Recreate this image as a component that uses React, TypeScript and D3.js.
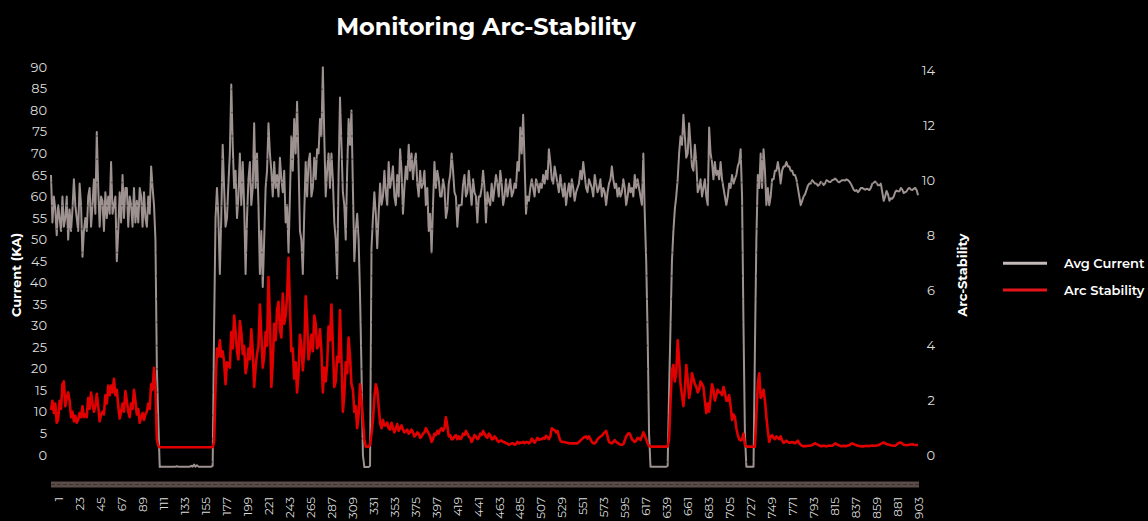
import React, { useEffect, useRef } from 'react';
import * as d3 from 'd3';

// readings are taken every 3rd position (starting a few positions before label "1"),
// plus a second reading half-way between each pair of them
const firstSample = -7;
const sampleStep = 3;

const avgCurrent = [
  65, 60, 51, 55, 60, 55, 50, 52, 64, 55,
  63, 46, 55, 60, 53, 64, 75, 53, 59, 61,
  60, 68, 58, 45, 61, 65, 62, 53, 58, 62,
  59, 62, 53, 55, 60, 67, 58,
  20,
  -2.8, -2.7, -2.7, -2.7, -2.7, -2.7, -2.6, -2.7, -2.7, -2.7, -2.7, -2.5, -2.2, -2.4, -2.7, -2.7, -2.7, -2.7, -2.7,
  30,
  62, 42, 72,
  53, 63, 86, 62, 55, 70, 68, 42, 64, 58,
  77, 70, 42, 39, 62, 77, 66, 68, 65, 69,
  61, 54, 47, 74, 78, 82, 52, 42, 68, 68,
  60, 69, 71, 78, 90, 60, 70, 70, 54, 41,
  83, 61, 50, 78, 80, 45, 56, 37, 0, -2.8, -2.8,
  48, 61, 48, 63, 60, 61, 68, 64, 60,
  65, 71, 56, 67, 72, 70, 68, 63, 66, 63,
  58, 52, 47, 68, 66, 60, 64, 55, 63, 70,
  61, 53, 58, 63, 60, 66, 58, 61, 54, 60,
  66, 54, 59, 63, 62, 63, 66, 58, 64, 62,
  60, 63, 68, 76, 79, 56, 59, 64, 60, 63,
  63, 65, 66, 71, 64, 67, 63, 65, 60, 58,
  63, 64, 59, 62, 66, 68, 62, 64, 62, 65,
  61, 64, 62, 58, 63, 67, 62, 60, 60, 64,
  58, 63, 62, 65, 64, 60, 70, 45, 5,
  -2.7, -2.7, -2.7, -2.7, -2.7, -2.7,
  15,
  45, 57, 64, 74, 79,
  69, 77, 67, 72, 61, 64, 62, 60, 76, 68,
  68, 66, 68, 62, 58, 63, 65, 64, 67, 71,
  30, -2.7, -2.7, -2.7, 25, 65, 70, 71, 58, 58,
  64, 66, 68, 63, 67, 68, 67, 66, 65, 62,
  58, 60, 61.5, 63, 63.8, 63, 62.5, 63.4, 62.7, 63.8,
  63.4, 63.8, 64.2, 63.4, 63.6, 63.8, 64, 63.5, 62.3, 61.3,
  61, 62, 61.8, 61.8, 61.5, 63, 63.5, 62.6, 63, 59,
  61.3, 59, 59.5, 61, 61.2, 62, 60.8, 61.2, 62, 61.5, 62,
  60.3,
];

const avgCurrentBetween = [
  54, 57, 58, 52, 53, 60, 57, 57, 58, 52,
  58, 52, 52, 62, 58, 56, 62, 60, 52, 55,
  56, 56, 60, 52, 54, 55, 62, 60, 53, 54,
  54, 60, 61, 53, 56, 62, 50, 8, -2.7, -2.7,
  -2.7, -2.7, -2.7, -2.7, -2.7, -2.7, -2.7, -2.7, -2.7, -2.7,
  -2.7, -2.7, -2.7, -2.7, -2.7, -2.7, -2.5, 55, 55, 55,
  62, 55, 70, 72, 66, 60, 58, 58, 55, 68,
  62, 62, 58, 52, 50, 66, 70, 60, 62, 60,
  64, 66, 58, 60, 66, 70, 68, 50, 56, 60,
  70, 62, 64, 70, 74, 74, 66, 62, 64, 50,
  65, 72, 58, 66, 72, 62, 52, 50, 20, -2.8,
  -2.8, -2.5, 55, 56, 56, 58, 66, 58, 62, 67,
  58, 60, 66, 62, 64, 66, 64, 70, 60, 62,
  66, 62, 56, 58, 62, 64, 60, 62, 57, 65,
  66, 60, 58, 58, 65, 61, 62, 64, 60, 60,
  62, 62, 61, 58, 59, 65, 60, 63, 60, 60,
  64, 61, 62, 66, 70, 68, 60, 62, 62, 64,
  61, 62, 63, 64, 68, 63, 65, 61, 62, 63,
  61, 60, 62, 61, 63, 64, 65, 61, 63, 60,
  63, 62, 60, 61, 61, 64, 64, 63, 62, 61,
  62, 60, 61, 60, 62, 62, 58, 56, 28, -2.7,
  -2.7, -2.7, -2.7, -2.7, -2.7, -2.5, 30, 52, 60, 70,
  72, 74, 70, 72, 66, 68, 62, 60, 64, 58,
  70, 64, 65, 64, 64, 60, 60, 62, 63, 65,
  68, 60, 5, -2.7, -2.7, -2.7, 50, 62, 62, 66,
  62, 60, 64, 66, 66, 66, 67, 67, 66, 65,
  64, 60, 59, 60.5, 62.5, 63, 63.4, 63, 62.8, 63.2,
  63, 63.6, 63.4, 63.9, 63.9, 63.3, 63.8, 63.7, 63.8, 63,
  61.6, 61.5, 61.4, 62, 61.6, 61.7, 62, 63.2, 63.2, 62.6,
  61, 60, 60.5, 59.6, 60, 61.4, 61.2, 61.6, 61, 61.8,
  61.6, 61.8, 61.5,
];

const arcStability = [
  1.66, 1.55, 1.2, 2.0, 2.6, 1.8, 2.3, 1.4, 1.25, 1.2,
  1.55, 1.8, 1.5, 2.1, 2.3, 1.6, 2.25, 1.25, 1.6, 2.2,
  2.55, 2.55, 2.8, 2.4, 1.35, 1.9, 2.35, 1.6, 1.9, 2.4,
  1.5, 1.2, 1.55, 1.5, 1.9, 2.6, 3.2,
  0.6,
  0.31, 0.31, 0.31, 0.31, 0.31, 0.31, 0.31, 0.31, 0.31, 0.31, 0.31, 0.31, 0.31, 0.31, 0.31, 0.31, 0.31, 0.31, 0.31,
  0.5,
  3.9, 4.2, 3.8,
  2.6, 3.3, 4.5, 5.1, 3.8, 4.9, 3.7, 3.0, 3.9, 4.6,
  2.5, 3.7, 5.5, 3.2, 4.5, 6.5, 2.5, 4.8, 5.3, 4.6,
  5.9, 5.1, 7.2, 3.8, 2.8, 2.3, 4.4, 3.1, 5.8, 3.5,
  4.4, 5.1, 3.9, 4.6, 2.3, 2.7, 4.7, 5.5, 2.5, 3.6,
  5.3, 1.6, 3.4, 4.3, 2.6, 1.6, 1.0, 2.6, 1.3, 0.33, 0.33,
  0.8, 2.1, 2.4, 1.2, 1.3, 1.1, 1.0, 1.2, 0.85,
  1.15, 1.0, 0.95, 0.9, 0.8, 0.95, 0.7, 0.85, 0.65, 0.8,
  1.0, 0.8, 0.5, 0.8, 0.9, 0.95, 0.9, 1.4, 0.7, 0.6,
  0.7, 0.6, 0.6, 0.8, 0.9, 0.7, 0.5, 0.75, 0.6, 0.8,
  0.9, 0.7, 0.8, 0.6, 0.7, 0.55, 0.55, 0.5, 0.45, 0.4,
  0.45, 0.4, 0.5, 0.48, 0.5, 0.5, 0.45, 0.62, 0.47, 0.65,
  0.6, 0.65, 0.72, 0.6, 1.0, 0.93, 0.9, 0.55, 0.5, 0.48,
  0.45, 0.45, 0.45, 0.45, 0.55, 0.65, 0.7, 0.7, 0.5, 0.45,
  0.6, 0.7, 0.8, 0.9, 0.5, 0.45, 0.57, 0.47, 0.4, 0.42,
  0.7, 0.82, 0.6, 0.5, 0.65, 0.57, 0.85, 0.6, 0.35,
  0.33, 0.33, 0.33, 0.33, 0.33, 0.33,
  0.6,
  3.1, 2.7, 4.2, 2.6, 1.8,
  3.3, 2.1, 3.0, 2.6, 2.3, 2.7, 2.5, 1.55, 1.6, 2.6,
  2.0, 2.4, 2.3, 2.5, 2.0, 2.2, 1.3, 1.4, 0.75, 0.55,
  0.8, 0.33, 0.33, 0.33, 0.33, 2.6, 2.1, 2.4, 1.4, 0.5,
  0.75, 0.6, 0.65, 0.7, 0.47, 0.55, 0.47, 0.5, 0.45, 0.55, 0.39, 0.34,
  0.35, 0.36, 0.38, 0.45, 0.4, 0.35, 0.36, 0.34, 0.37, 0.36,
  0.45, 0.4, 0.35, 0.36, 0.35, 0.38, 0.45, 0.4, 0.36, 0.35,
  0.34, 0.36, 0.35, 0.37, 0.36, 0.38, 0.43, 0.48, 0.42, 0.4,
  0.37, 0.36, 0.45, 0.48, 0.4, 0.38, 0.4, 0.42, 0.39,
  0.39,
];

const arcStabilityBetween = [
  2.0, 1.9, 1.3, 1.7, 2.7, 2.1, 2.0, 1.6, 1.45, 1.3,
  1.4, 1.4, 1.4, 1.7, 1.9, 1.8, 1.8, 1.5, 1.5, 1.9,
  2.2, 2.3, 2.2, 1.8, 1.6, 1.6, 2.0, 1.4, 1.7, 2.0,
  1.7, 1.4, 1.3, 1.6, 1.7, 2.4, 2.4, 0.35, 0.31, 0.31,
  0.31, 0.31, 0.31, 0.31, 0.31, 0.31, 0.31, 0.31, 0.31, 0.31,
  0.31, 0.31, 0.31, 0.31, 0.31, 0.31, 0.31, 2.5, 3.6, 3.6,
  3.4, 3.4, 3.2, 3.9, 4.5, 3.5, 4.5, 4.0, 3.3, 3.5,
  3.8, 3.2, 4.0, 4.4, 3.6, 4.0, 5.0, 3.4, 4.2, 5.6,
  4.3, 4.8, 5.8, 5.4, 3.9, 3.4, 3.0, 4.0, 3.8, 4.9,
  3.9, 3.8, 4.8, 4.0, 3.8, 3.2, 3.3, 4.2, 4.0, 2.7,
  3.4, 3.5, 2.2, 3.0, 3.6, 2.4, 1.8, 1.5, 2.0, 0.6,
  0.33, 0.4, 1.3, 2.6, 1.8, 1.0, 1.1, 1.2, 0.95, 1.0,
  1.0, 0.9, 1.1, 0.85, 0.95, 0.85, 0.85, 0.75, 0.8, 0.7,
  0.85, 0.9, 0.7, 0.6, 0.75, 0.8, 1.0, 1.0, 1.1, 0.75,
  0.6, 0.75, 0.7, 0.65, 0.75, 0.8, 0.65, 0.6, 0.7, 0.65,
  0.75, 0.8, 0.65, 0.75, 0.6, 0.65, 0.5, 0.55, 0.5, 0.45,
  0.42, 0.45, 0.42, 0.45, 0.47, 0.45, 0.5, 0.5, 0.55, 0.55,
  0.58, 0.6, 0.62, 0.68, 0.7, 0.95, 0.85, 0.7, 0.5, 0.5,
  0.47, 0.45, 0.45, 0.45, 0.5, 0.6, 0.68, 0.62, 0.6, 0.45,
  0.5, 0.65, 0.72, 0.85, 0.7, 0.47, 0.5, 0.5, 0.43, 0.4,
  0.55, 0.78, 0.75, 0.55, 0.55, 0.62, 0.7, 0.75, 0.45, 0.33,
  0.33, 0.33, 0.33, 0.33, 0.33, 0.33, 2.0, 3.3, 3.0, 3.5,
  2.2, 2.4, 2.8, 2.4, 2.8, 2.5, 2.4, 2.6, 2.0, 1.9,
  2.1, 2.4, 2.2, 2.3, 2.2, 2.3, 2.0, 1.8, 1.5, 1.0,
  0.6, 0.6, 0.4, 0.33, 0.33, 0.33, 1.5, 3.0, 2.2, 2.0,
  0.9, 0.7, 0.65, 0.7, 0.6, 0.55, 0.5, 0.5, 0.48, 0.48,
  0.5, 0.45, 0.36, 0.35,
  0.36, 0.37, 0.42, 0.42, 0.37, 0.35, 0.35, 0.36, 0.36, 0.4,
  0.42, 0.37, 0.35, 0.35, 0.37, 0.42, 0.42, 0.38, 0.35, 0.34,
  0.35, 0.35, 0.36, 0.36, 0.37, 0.4, 0.46, 0.45, 0.41, 0.38,
  0.36, 0.4, 0.47, 0.44, 0.39, 0.39, 0.41, 0.4, 0.39,
];

const xTickLabels = [
  1, 23, 45, 67, 89, 111, 133, 155, 177, 199, 221, 243, 265, 287, 309, 331, 353, 375, 397, 419, 441,
  463, 485, 507, 529, 551, 573, 595, 617, 639, 661, 683, 705, 727, 749, 771, 793, 815, 837, 859, 881, 903,
];
const leftTicks = [0, 5, 10, 15, 20, 25, 30, 35, 40, 45, 50, 55, 60, 65, 70, 75, 80, 85, 90];
const rightTicks = [0, 2, 4, 6, 8, 10, 12, 14];

const legendItems = [
  { name: 'Avg Current', color: '#c4bcb8' },
  { name: 'Arc Stability', color: '#e3141a' },
];

const W = 1148;
const H = 521;
const FONT = "'Montserrat', 'Open Sans', sans-serif";

// merge the on-grid readings with the half-step readings
const toPoints = (main: number[], between: number[]) => {
  const pts: [number, number][] = [];
  main.forEach((v, j) => {
    pts.push([firstSample + j * sampleStep, v]);
    if (j < between.length) pts.push([firstSample + j * sampleStep + sampleStep / 2, between[j]]);
  });
  return pts;
};

const App = () => {
  const svgRef = useRef<SVGSVGElement>(null);

  useEffect(() => {
    document.body.style.margin = '0';
    document.body.style.background = '#000';

    const svg = d3.select(svgRef.current);
    svg.selectAll('*').remove();

    const x = d3.scaleLinear().domain([firstSample, 903]).range([51, 919]);
    const yLeft = d3.scaleLinear().domain([0, 90]).range([455, 67.3]);
    const yRight = d3.scaleLinear().domain([0, 14]).range([455.7, 70.7]);

    // title
    svg.append('text')
      .attr('x', 486).attr('y', 35)
      .attr('text-anchor', 'middle')
      .style('font-family', FONT).style('font-weight', 700).style('font-size', '24px')
      .style('fill', '#fff')
      .text('Monitoring Arc-Stability');

    // axis labels
    svg.append('g').selectAll('text').data(leftTicks).enter().append('text')
      .attr('x', 47).attr('y', d => yLeft(d))
      .attr('dy', '0.35em')
      .attr('text-anchor', 'end')
      .style('font-family', FONT).style('font-size', '13px').style('fill', '#dcdcdc')
      .text(d => d);

    svg.append('g').selectAll('text').data(rightTicks).enter().append('text')
      .attr('x', 935).attr('y', d => yRight(d))
      .attr('dy', '0.35em')
      .attr('text-anchor', 'end')
      .style('font-family', FONT).style('font-size', '13px').style('fill', '#dcdcdc')
      .text(d => d);

    svg.append('text')
      .attr('transform', 'translate(16,275) rotate(-90)')
      .attr('text-anchor', 'middle').attr('dy', '0.35em')
      .style('font-family', FONT).style('font-weight', 700).style('font-size', '13px')
      .style('fill', '#fff')
      .text('Current (KA)');

    svg.append('text')
      .attr('transform', 'translate(962,275) rotate(-90)')
      .attr('text-anchor', 'middle').attr('dy', '0.35em')
      .style('font-family', FONT).style('font-weight', 700).style('font-size', '13px')
      .style('fill', '#fff')
      .text('Arc-Stability');

    // series
    const grayLine = d3.line<[number, number]>()
      .x(d => x(d[0]))
      .y(d => yLeft(d[1]));

    svg.append('path')
      .datum(toPoints(avgCurrent, avgCurrentBetween))
      .attr('d', grayLine)
      .style('fill', 'none')
      .style('stroke', '#b8aca8')
      .style('stroke-opacity', 0.85)
      .style('stroke-width', 2)
      .style('stroke-linejoin', 'round');

    // faint dotted grid rows, only noticeable where they cross the gray line
    const gridRow = d3.scaleLinear().domain([0, 18]).range([66, 485.4]);
    svg.append('g').selectAll('line').data(d3.range(18)).enter().append('line')
      .attr('x1', 51).attr('x2', 919)
      .attr('y1', d => gridRow(d)).attr('y2', d => gridRow(d))
      .style('stroke', '#000').style('stroke-opacity', 0.35)
      .style('stroke-width', 1.5).style('stroke-dasharray', '2,3');

    const redLine = d3.line<[number, number]>()
      .x(d => x(d[0]))
      .y(d => yRight(d[1]));

    svg.append('path')
      .datum(toPoints(arcStability, arcStabilityBetween))
      .attr('d', redLine)
      .style('fill', 'none')
      .style('stroke', '#e00000')
      .style('stroke-width', 2.6)
      .style('stroke-linejoin', 'round');

    // slider bar under the plot
    svg.append('rect')
      .attr('x', 51).attr('y', 481.5).attr('width', 868).attr('height', 6)
      .style('fill', '#5a4c48');
    svg.append('line')
      .attr('x1', 51).attr('x2', 919).attr('y1', 484.5).attr('y2', 484.5)
      .style('stroke', '#3a302d').style('stroke-width', 1).style('stroke-dasharray', '4,2');

    // x labels
    svg.append('g').selectAll('text').data(xTickLabels).enter().append('text')
      .attr('transform', d => `translate(${x(d)},497) rotate(-90)`)
      .attr('text-anchor', 'end').attr('dy', '0.35em')
      .style('font-family', FONT).style('font-size', '12px').style('fill', '#dcdcdc')
      .text(d => d);

    // legend
    const legend = svg.append('g').selectAll('g').data(legendItems).enter().append('g')
      .attr('transform', (d, i) => `translate(1003,${263.3 + i * 26.7})`);
    legend.append('line')
      .attr('x1', 0).attr('x2', 44).attr('y1', 0).attr('y2', 0)
      .style('stroke', d => d.color).style('stroke-width', 3);
    legend.append('text')
      .attr('x', 61).attr('dy', '0.35em')
      .style('font-family', FONT).style('font-weight', 600).style('font-size', '13px')
      .style('fill', '#fff')
      .text(d => d.name);
  }, []);

  return (
    <div style={{ position: 'fixed', inset: 0, background: '#000' }}>
      <svg ref={svgRef} width={W} height={H} style={{ display: 'block' }} />
    </div>
  );
};

export default App;
